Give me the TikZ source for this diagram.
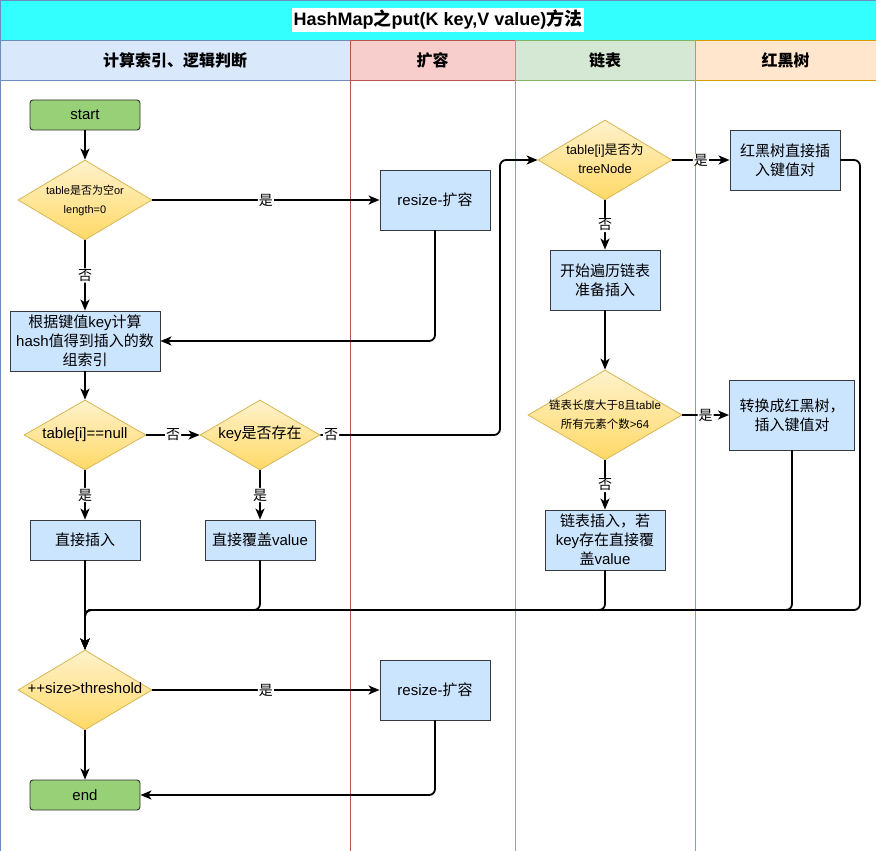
\documentclass[tikz,border=0pt]{standalone}
\usepackage{fontspec}
\setmainfont{Liberation Sans}
\newfontfamily\cjk{Noto Sans CJK SC}
\usetikzlibrary{shapes.geometric,arrows.meta}

% switch to the CJK font for Chinese characters
\XeTeXinterchartokenstate=1
\newXeTeXintercharclass\cjkcls
\newcount\cjkcode
\cjkcode="4E00
\loop \XeTeXcharclass\cjkcode=\cjkcls \advance\cjkcode by 1 \ifnum\cjkcode<"A000 \repeat
\XeTeXcharclass"3001=\cjkcls
\XeTeXcharclass"FF0C=\cjkcls
\XeTeXinterchartoks 0 \cjkcls = {\cjk}
\XeTeXinterchartoks 4095 \cjkcls = {\cjk}
\XeTeXinterchartoks \cjkcls 0 = {\rmfamily}
\XeTeXinterchartoks \cjkcls 4095 = {\rmfamily}

\definecolor{titlefill}{HTML}{33FFFF}
\definecolor{titleline}{HTML}{6C8EBF}
\definecolor{laneafill}{HTML}{DAE8FC}
\definecolor{lanealine}{HTML}{6C8EBF}
\definecolor{lanebfill}{HTML}{F8CECC}
\definecolor{lanebline}{HTML}{B85450}
\definecolor{lanecfill}{HTML}{D5E8D4}
\definecolor{lanecline}{HTML}{82B366}
\definecolor{lanedfill}{HTML}{FFE6CC}
\definecolor{lanedline}{HTML}{D79B00}
\definecolor{boxfill}{HTML}{CCE5FF}
\definecolor{boxline}{HTML}{36393D}
\definecolor{termfill}{HTML}{97D077}
\definecolor{diatop}{HTML}{FFF2CC}
\definecolor{diabot}{HTML}{FFD966}
\definecolor{dialine}{HTML}{D6B656}

\newcommand\dtxt[1]{\makebox[0pt]{\begin{tabular}{@{}c@{}}#1\end{tabular}}}

\begin{document}
\begin{tikzpicture}[x=1pt,y=-1pt,
  flow/.style={draw, line width=1.8pt, rounded corners=6pt, -{Stealth[length=11pt,width=9pt,inset=3pt]}},
  box/.style={draw=boxline, fill=boxfill, line width=0.9pt, inner sep=0pt, align=center, font=\fontsize{15}{19}\selectfont},
  term/.style={box, fill=termfill, draw=black!80, rounded corners=3pt},
  dia/.style={diamond, draw=dialine, top color=diatop, bottom color=diabot, inner sep=0pt, line width=0.8pt},
  lbl/.style={fill=white, inner sep=1pt, font=\fontsize{14}{14}\selectfont},
  hdr/.style={font=\bfseries\fontsize{16}{16}\selectfont}]
\useasboundingbox (0,0) rectangle (876,851);

%Title
\draw[draw=titleline, fill=titlefill, line width=0.8pt] (0,0) rectangle (876,40);
\node (title) at (438,20) [fill=white, inner sep=2pt, font=\bfseries\fontsize{18}{18}\selectfont] {HashMap之put(K key,V value)方法};

%Lanes
\draw[draw=lanealine, line width=0.8pt] (0,40) rectangle (350,851);
\draw[draw=lanealine, fill=laneafill, line width=0.8pt] (0,40) rectangle (350,80);
\draw[draw=lanebline, line width=0.8pt] (350,40) rectangle (515,851);
\draw[draw=lanebline, fill=lanebfill, line width=0.8pt] (350,40) rectangle (515,80);
\draw[draw=lanecline, line width=0.8pt] (515,40) rectangle (695,851);
\draw[draw=lanecline, fill=lanecfill, line width=0.8pt] (515,40) rectangle (695,80);
\draw[draw=lanedline, line width=0.8pt] (695,40) rectangle (876,851);
\draw[draw=lanedline, fill=lanedfill, line width=0.8pt] (695,40) rectangle (876,80);
\node (hda) at (175,60) [hdr] {计算索引、逻辑判断};
\node (hdb) at (432.5,60) [hdr] {扩容};
\node (hdc) at (605,60) [hdr] {链表};
\node (hdd) at (785.5,60) [hdr] {红黑树};

%Shapes
\node (start) at (85,115) [term, minimum width=110pt, minimum height=30pt] {start};
\node (isempty) at (85,200) [dia, minimum width=134pt, minimum height=80pt, font=\fontsize{11}{19}\selectfont] {\dtxt{table是否为空or\\length=0}};
\node (resizea) at (435,200) [box, minimum width=110pt, minimum height=60pt] {resize-扩容};
\node (hashidx) at (85,341) [box, minimum width=150pt, minimum height=60pt] {根据键值key计算\\hash值得到插入的数\\组索引};
\node (isnull) at (85,435) [dia, minimum width=122pt, minimum height=70pt, font=\fontsize{15}{19}\selectfont] {\dtxt{table[i]==null}};
\node (haskey) at (260,435) [dia, minimum width=120pt, minimum height=70pt, font=\fontsize{15}{19}\selectfont] {\dtxt{key是否存在}};
\node (insert) at (85,540) [box, minimum width=110pt, minimum height=40pt] {直接插入};
\node (cover) at (260,540) [box, minimum width=110pt, minimum height=40pt] {直接覆盖value};
\node (istree) at (605,160) [dia, minimum width=134pt, minimum height=80pt, font=\fontsize{13}{19}\selectfont] {\dtxt{table[i]是否为\\treeNode}};
\node (treeput) at (785,160) [box, minimum width=110pt, minimum height=60pt] {红黑树直接插\\入键值对};
\node (walk) at (605,280) [box, minimum width=110pt, minimum height=60pt] {开始遍历链表\\准备插入};
\node (tolong) at (605,415) [dia, minimum width=154pt, minimum height=90pt, font=\fontsize{11.5}{19}\selectfont] {\dtxt{链表长度大于8且table\\所有元素个数>64}};
\node (totree) at (792,415) [box, minimum width=125pt, minimum height=70pt] {转换成红黑树，\\插入键值对};
\node (listput) at (605,540) [box, minimum width=120pt, minimum height=60pt] {链表插入，若\\key存在直接覆\\盖value};
\node (oversize) at (85,690) [dia, minimum width=134pt, minimum height=80pt, font=\fontsize{15}{19}\selectfont] {\dtxt{++size>threshold}};
\node (resizeb) at (435,690) [box, minimum width=110pt, minimum height=60pt] {resize-扩容};
\node (stop) at (85,795) [term, minimum width=110pt, minimum height=30pt] {end};

\coordinate (jump) at (500,435);
\coordinate (merge) at (85,610);
\coordinate (rbdown) at (860,610);

%Connectors
\draw[flow] (start) -- (isempty);
\draw[flow] (isempty) -- node[lbl] {是} (resizea);
\draw[flow] (isempty) -- node[lbl] {否} (hashidx);
\draw[flow] (resizea.south) |- (hashidx.east);
\draw[flow] (hashidx) -- (isnull);
\draw[flow] (isnull) -- node[lbl] {否} (haskey);
\draw[flow] (isnull) -- node[lbl] {是} (insert);
\draw[flow] (haskey) -- node[lbl] {是} (cover);
\draw[flow] (haskey.east) -- node[lbl, pos=.06] {否} (jump) |- (istree.west);
\draw[flow] (istree) -- node[lbl] {是} (treeput);
\draw[flow] (istree) -- node[lbl] {否} (walk);
\draw[flow] (walk) -- (tolong);
\draw[flow] (tolong) -- node[lbl] {是} (totree);
\draw[flow] (tolong) -- node[lbl] {否} (listput);
\draw[flow] (insert) -- (oversize);
\draw[flow] (cover.south) |- (merge) -- (oversize.north);
\draw[flow] (listput.south) |- (merge) -- (oversize.north);
\draw[flow] (totree.south) |- (merge) -- (oversize.north);
\draw[flow] (treeput.east) -| (rbdown) -- (merge) -- (oversize.north);
\draw[flow] (oversize) -- node[lbl] {是} (resizeb);
\draw[flow] (oversize) -- (stop);
\draw[flow] (resizeb.south) |- (stop.east);

\end{tikzpicture}
\end{document}
